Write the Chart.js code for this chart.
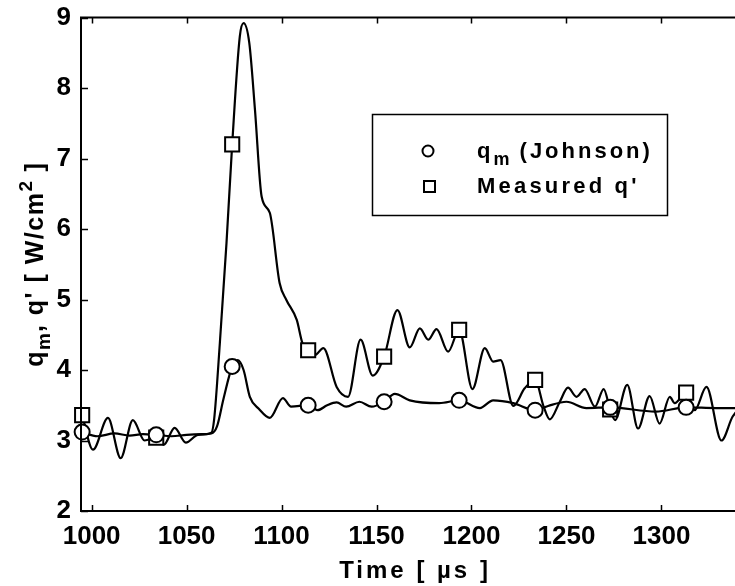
<!DOCTYPE html>
<html>
<head>
<meta charset="utf-8">
<script src="https://cdn.jsdelivr.net/npm/chart.js@4.4.0/dist/chart.umd.min.js"></script>
<style>
  html, body { margin: 0; padding: 0; background: #fff; overflow: hidden; }
  #wrap { width: 760px; height: 586px; }
</style>
</head>
<body>
<div id="wrap"><canvas id="flux-chart" width="760" height="586"></canvas></div>
<script>
// axis ticks
const timeTicks = [1000, 1050, 1100, 1150, 1200, 1250, 1300];
const fluxTicks = [2, 3, 4, 5, 6, 7, 8, 9];

// times (µs) where the symbols sit on both curves
const markerTimes = [995, 1034, 1074, 1114, 1154, 1193.5, 1233.5, 1273, 1313];

// measured q'
const measuredTime = [995, 1000.7, 1008.6, 1015.3, 1021.7, 1027.9, 1034, 1038, 1043.7, 1049.6,
  1056, 1063, 1064.5, 1067.5, 1071, 1074, 1078, 1080, 1083, 1086, 1089.5, 1093.8, 1099, 1102.6,
  1108, 1111, 1114, 1117.5, 1122, 1129, 1135, 1141.6, 1148, 1154, 1161, 1167.5, 1172.8, 1177.2,
  1181.6, 1187.7, 1193.5, 1200.5, 1207, 1211.4, 1215.3, 1222, 1228, 1233.5, 1238, 1241.2, 1246.5,
  1250.8, 1255.3, 1259.6, 1265, 1269.6, 1273, 1275.6, 1282, 1287.7, 1293.8, 1299, 1304.4, 1307,
  1313, 1317.5, 1323.7, 1331.6, 1337.5, 1343];
const measuredFlux = [3.36, 2.87, 3.32, 2.75, 3.29, 3.00, 3.04, 2.94, 3.18, 2.97,
  3.08, 3.11, 3.3, 4.38, 5.8, 7.2, 8.73, 8.92, 8.64, 7.69, 6.46, 6.23, 5.23, 4.99,
  4.71, 4.38, 4.28, 4.21, 4.31, 3.76, 3.62, 4.43, 3.92, 4.19, 4.85, 4.32, 4.59, 4.43,
  4.58, 4.26, 4.57, 3.73, 4.31, 4.12, 4.14, 3.49, 3.74, 3.86, 3.48, 3.30, 3.55,
  3.75, 3.62, 3.73, 3.48, 3.73, 3.44, 3.29, 3.79, 3.17, 3.63, 3.24, 3.62, 3.53,
  3.68, 3.43, 3.76, 3.0, 3.34, 3.5];

// q_m from the Johnson model
const johnsonTime = [995, 1003, 1012, 1020, 1027, 1034, 1042, 1050, 1058, 1063, 1066, 1069.5,
  1074, 1077, 1080, 1083.3, 1088, 1093.8, 1100.7, 1105, 1114, 1119, 1124, 1129, 1134, 1141,
  1147.4, 1154, 1159.6, 1167.5, 1183, 1193.5, 1204.4, 1211.4, 1222, 1233.5, 1240.3, 1250,
  1260.5, 1273, 1297, 1313, 1329, 1343];
const johnsonFlux = [3.12, 3.06, 3.1, 3.07, 3.09, 3.08, 3.06, 3.08, 3.09, 3.1, 3.2, 3.6,
  4.05, 4.14, 4.0, 3.62, 3.45, 3.32, 3.6, 3.48, 3.5, 3.43, 3.5, 3.54, 3.48, 3.55,
  3.48, 3.55, 3.66, 3.57, 3.53, 3.57, 3.46, 3.57, 3.53, 3.43, 3.49, 3.55,
  3.46, 3.47, 3.41, 3.47, 3.46, 3.46];

const FONT = "'Liberation Sans', Arial, sans-serif";

const toPoints = (xs, ys) => xs.map((x, i) => ({ x: x, y: ys[i] }));
const markerRadius = r => ctx => (markerTimes.includes(ctx.raw.x) ? r : 0);

// draws a run of text pieces (for sub/superscripts), returns total width
function drawPieces(ctx, pieces, x, y, measureOnly) {
  let cx = x;
  pieces.forEach(p => {
    ctx.font = 'bold ' + p.size + 'px ' + FONT;
    ctx.letterSpacing = (p.spacing || 0) + 'px';
    if (!measureOnly) ctx.fillText(p.text, cx, y + (p.dy || 0));
    cx += ctx.measureText(p.text).width;
  });
  return cx - x;
}

const framePlugin = {
  id: 'frame',
  afterDraw(chart) {
    const { ctx, chartArea: a } = chart;
    const xs = chart.scales.x, ys = chart.scales.y;
    ctx.save();
    ctx.strokeStyle = '#000';
    ctx.lineWidth = 2;
    ctx.strokeRect(a.left, a.top, a.right - a.left, a.bottom - a.top);

    // inward tick marks on all four sides
    ctx.lineWidth = 1.5;
    ctx.beginPath();
    xs.ticks.forEach(t => {
      const px = Math.round(xs.getPixelForValue(t.value)) + 0.5;
      ctx.moveTo(px, a.bottom); ctx.lineTo(px, a.bottom - 6);
      ctx.moveTo(px, a.top); ctx.lineTo(px, a.top + 6);
    });
    ys.ticks.forEach(t => {
      const py = Math.round(ys.getPixelForValue(t.value)) + 0.5;
      ctx.moveTo(a.left, py); ctx.lineTo(a.left + 7, py);
      ctx.moveTo(a.right, py); ctx.lineTo(a.right - 7, py);
    });
    ctx.stroke();

    ctx.fillStyle = '#000';
    ctx.textBaseline = 'alphabetic';
    ctx.textAlign = 'left';

    // x title
    const xt = [{ text: 'Time [ µs ]', size: 24, spacing: 3 }];
    const xw = drawPieces(ctx, xt, 0, 0, true);
    drawPieces(ctx, xt, (a.left + 745) / 2 - xw / 2 + 2, 578);

    // y title, rotated
    const yt = [
      { text: 'q', size: 25, spacing: 1.5 },
      { text: 'm', size: 19, spacing: 1, dy: 7 },
      { text: ", q' [ W/cm", size: 25, spacing: 1.5 },
      { text: '2', size: 19, spacing: 1, dy: -11 },
      { text: ' ]', size: 25, spacing: 1.5 }
    ];
    const yw = drawPieces(ctx, yt, 0, 0, true);
    ctx.save();
    ctx.translate(43, (a.top + a.bottom) / 2);
    ctx.rotate(-Math.PI / 2);
    drawPieces(ctx, yt, -yw / 2, 0);
    ctx.restore();

    // legend box
    ctx.letterSpacing = '0px';
    ctx.lineWidth = 1.5;
    ctx.strokeRect(372.5, 114.5, 295, 101);
    ctx.lineWidth = 2;
    ctx.fillStyle = '#fff';
    ctx.beginPath();
    ctx.arc(428, 151, 5.5, 0, Math.PI * 2);
    ctx.fill(); ctx.stroke();
    ctx.fillRect(424, 181, 11, 11);
    ctx.strokeRect(424, 181, 11, 11);
    ctx.fillStyle = '#000';
    drawPieces(ctx, [
      { text: 'q', size: 22, spacing: 3 },
      { text: 'm', size: 18, spacing: 1, dy: 7 },
      { text: ' (Johnson)', size: 22, spacing: 3 }
    ], 477, 158);
    drawPieces(ctx, [{ text: "Measured q'", size: 22, spacing: 3.2 }], 477, 193);
    ctx.restore();
  }
};

new Chart(document.getElementById('flux-chart'), {
  type: 'line',
  data: {
    datasets: [{
      label: 'q_m (Johnson)',
      data: toPoints(johnsonTime, johnsonFlux),
      borderColor: '#000',
      borderWidth: 2.2,
      cubicInterpolationMode: 'monotone',
      pointStyle: 'circle',
      pointRadius: markerRadius(7.5),
      pointBorderWidth: 2,
      pointBorderColor: '#000',
      pointBackgroundColor: '#fff',
      clip: false
    }, {
      label: "Measured q'",
      data: toPoints(measuredTime, measuredFlux),
      borderColor: '#000',
      borderWidth: 2.2,
      cubicInterpolationMode: 'monotone',
      pointStyle: 'rect',
      pointRadius: markerRadius(10),
      pointBorderWidth: 2,
      pointBorderColor: '#000',
      pointBackgroundColor: '#fff',
      clip: false
    }]
  },
  options: {
    responsive: false,
    animation: false,
    events: [],
    layout: { padding: { top: 17.5, right: 15, left: 0, bottom: 0 } },
    plugins: { legend: { display: false }, tooltip: { enabled: false } },
    scales: {
      x: {
        type: 'linear',
        min: 994.4,
        max: 1344,
        afterBuildTicks: s => { s.ticks = timeTicks.map(v => ({ value: v })); },
        afterFit: s => { s.height = 75; s.paddingLeft = 0; s.paddingRight = 0; },
        grid: { display: false, drawTicks: false },
        border: { display: false },
        ticks: {
          color: '#000',
          padding: 10,
          maxRotation: 0,
          callback: v => String(v),
          font: { family: FONT, size: 26, weight: 'bold' }
        }
      },
      y: {
        min: 2,
        max: 9,
        afterBuildTicks: s => { s.ticks = fluxTicks.map(v => ({ value: v })); },
        afterFit: s => { s.width = 81; s.paddingTop = 0; s.paddingBottom = 0; },
        grid: { display: false, drawTicks: false },
        border: { display: false },
        ticks: {
          color: '#000',
          padding: 10,
          callback: v => String(v),
          font: { family: FONT, size: 26, weight: 'bold' }
        }
      }
    }
  },
  plugins: [framePlugin]
});
</script>
</body>
</html>
